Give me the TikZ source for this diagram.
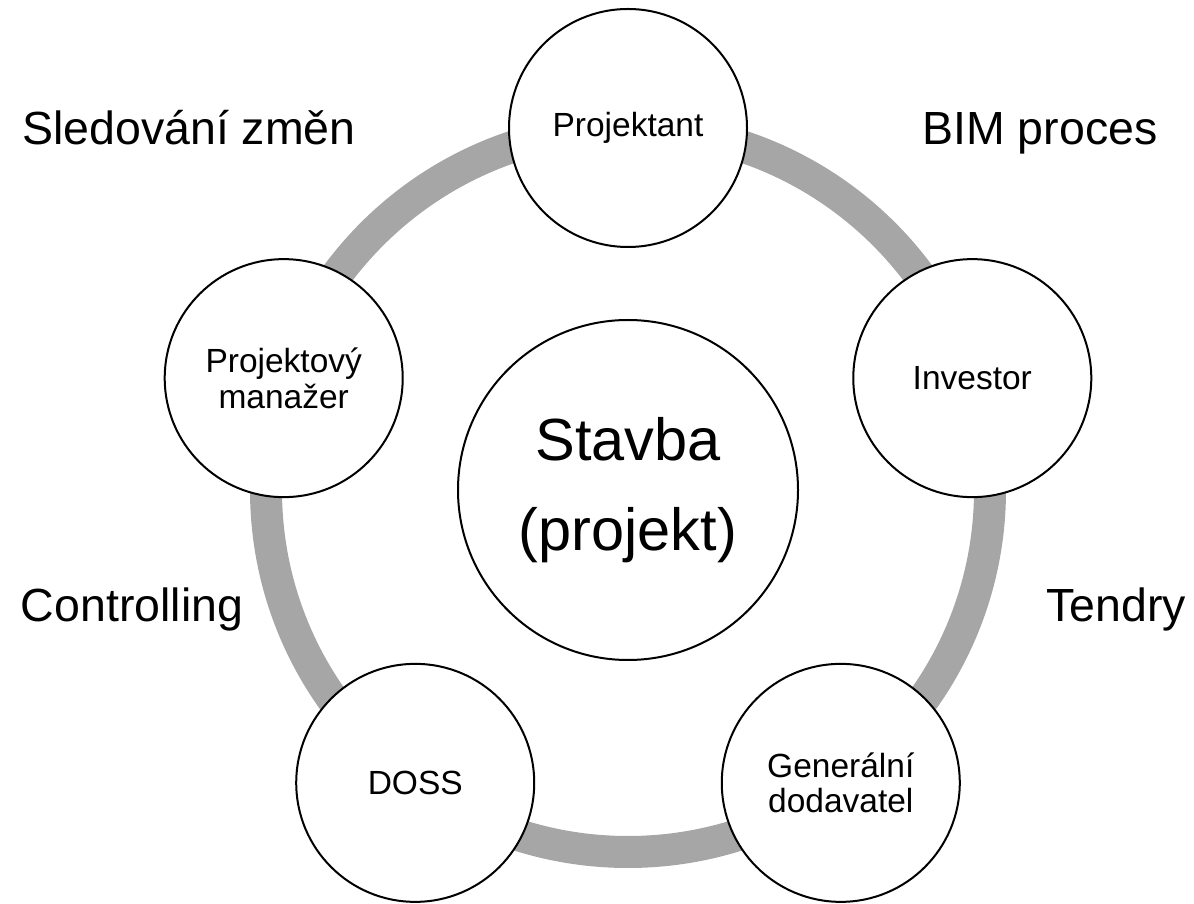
\documentclass[tikz,border=0pt]{standalone}
\usepackage{fontspec}
\setmainfont{Liberation Sans}
\usetikzlibrary{calc}
\definecolor{ringgray}{HTML}{A6A6A6}
\begin{document}
\begin{tikzpicture}[x=1pt,y=1pt,
  role/.style={circle,draw=black,line width=2pt,fill=white,minimum size=238pt,inner sep=0pt,align=center,
    font=\fontsize{33.5}{35.5}\selectfont},
  hub/.style={circle,draw=black,line width=2pt,fill=white,minimum size=340pt,inner sep=0pt,align=center,
    font=\fontsize{59.5}{90}\selectfont},
  tag/.style={anchor=base,inner sep=0pt,font=\fontsize{46.5}{50}\selectfont},
  ring/.style={draw=ringgray,line width=32pt}]
\useasboundingbox (0,0) rectangle (1194,903);
\coordinate (c) at (628,413);
\draw[ring] (c) circle (362);
\node[hub] (stavba) at (c) {Stavba\\(projekt)};
\node[role] (projektant) at ($(c)+(90:362)$) {Projektant};
\node[role] (investor) at ($(c)+(18:362)$) {Investor};
\node[role] (gd) at ($(c)+(-54:362)$) {Generální\\dodavatel};
\node[role] (doss) at ($(c)+(-126:362)$) {DOSS};
\node[role] (pm) at ($(c)+(162:362)$) {Projektový\\manažer};
\node[tag] (l1) at (189,758) {Sledování změn};
\node[tag] (l2) at (1040,758) {BIM proces};
\node[tag] (l3) at (132,281) {Controlling};
\node[tag] (l4) at (1116,281) {Tendry};
\end{tikzpicture}
\end{document}
